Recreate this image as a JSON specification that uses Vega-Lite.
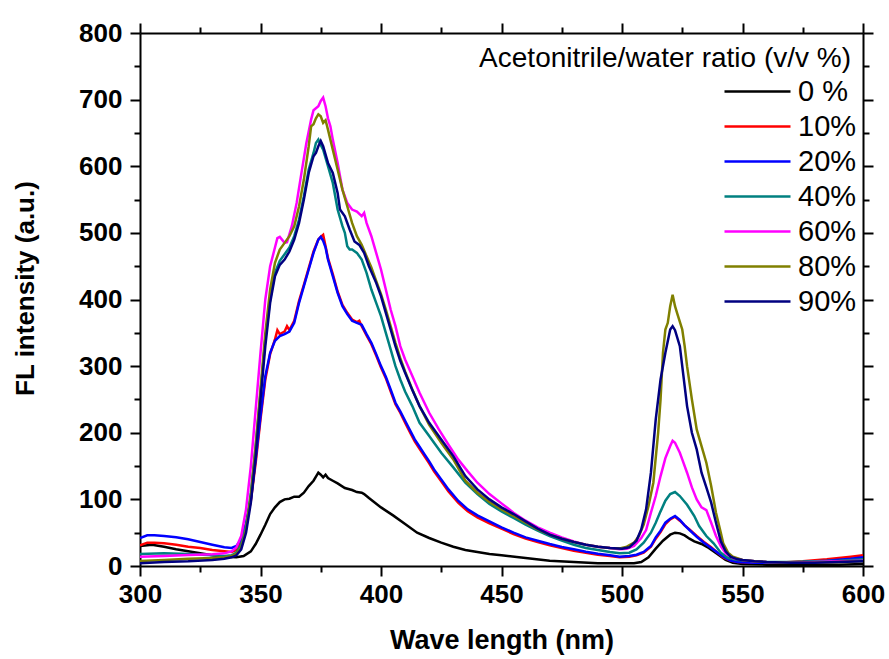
{
  "$schema": "https://vega.github.io/schema/vega-lite/v6.json",
  "width": 723,
  "height": 533,
  "autosize": {"type": "none"},
  "padding": {"left": 140, "top": 33, "right": 26, "bottom": 93},
  "background": "white",
  "config": {
    "view": {"stroke": null},
    "font": "Liberation Sans",
    "axis": {
      "grid": false,
      "domainColor": "black",
      "domainWidth": 2,
      "tickColor": "black",
      "tickWidth": 2,
      "labelColor": "black",
      "titleColor": "black",
      "labelFont": "Liberation Sans",
      "labelFontWeight": "bold",
      "labelFontSize": 26,
      "titleFont": "Liberation Sans",
      "titleFontWeight": "bold"
    }
  },
  "title": {
    "text": "Acetonitrile/water ratio (v/v %)",
    "anchor": "end",
    "frame": "group",
    "orient": "top",
    "offset": 0,
    "dx": -12,
    "dy": 75,
    "baseline": "alphabetic",
    "font": "Liberation Sans",
    "fontSize": 28,
    "fontWeight": "normal",
    "color": "black"
  },
  "data": {
    "values": [
      {"ratio":"0 %","nm":300,"fl":30},{"ratio":"0 %","nm":305,"fl":32},{"ratio":"0 %","nm":310,"fl":29},{"ratio":"0 %","nm":315,"fl":25},{"ratio":"0 %","nm":320,"fl":22},{"ratio":"0 %","nm":325,"fl":19},{"ratio":"0 %","nm":330,"fl":16},{"ratio":"0 %","nm":335,"fl":14},{"ratio":"0 %","nm":340,"fl":13},{"ratio":"0 %","nm":343,"fl":15},{"ratio":"0 %","nm":346,"fl":22},{"ratio":"0 %","nm":348,"fl":33},{"ratio":"0 %","nm":350,"fl":47},{"ratio":"0 %","nm":352,"fl":62},{"ratio":"0 %","nm":354,"fl":78},{"ratio":"0 %","nm":356,"fl":88},{"ratio":"0 %","nm":358,"fl":96},{"ratio":"0 %","nm":360,"fl":100},{"ratio":"0 %","nm":362,"fl":101},{"ratio":"0 %","nm":364,"fl":104},{"ratio":"0 %","nm":366,"fl":104},{"ratio":"0 %","nm":368,"fl":110},{"ratio":"0 %","nm":370,"fl":120},{"ratio":"0 %","nm":372,"fl":128},{"ratio":"0 %","nm":374,"fl":140},{"ratio":"0 %","nm":375,"fl":137},{"ratio":"0 %","nm":376,"fl":133},{"ratio":"0 %","nm":377,"fl":137},{"ratio":"0 %","nm":378,"fl":132},{"ratio":"0 %","nm":380,"fl":128},{"ratio":"0 %","nm":382,"fl":124},{"ratio":"0 %","nm":385,"fl":117},{"ratio":"0 %","nm":388,"fl":114},{"ratio":"0 %","nm":390,"fl":111},{"ratio":"0 %","nm":392,"fl":110},{"ratio":"0 %","nm":393,"fl":108},{"ratio":"0 %","nm":395,"fl":102},{"ratio":"0 %","nm":400,"fl":88},{"ratio":"0 %","nm":405,"fl":76},{"ratio":"0 %","nm":410,"fl":63},{"ratio":"0 %","nm":415,"fl":50},{"ratio":"0 %","nm":420,"fl":42},{"ratio":"0 %","nm":425,"fl":35},{"ratio":"0 %","nm":430,"fl":29},{"ratio":"0 %","nm":435,"fl":24},{"ratio":"0 %","nm":440,"fl":21},{"ratio":"0 %","nm":445,"fl":18},{"ratio":"0 %","nm":450,"fl":16},{"ratio":"0 %","nm":460,"fl":12},{"ratio":"0 %","nm":470,"fl":8},{"ratio":"0 %","nm":480,"fl":6},{"ratio":"0 %","nm":490,"fl":4},{"ratio":"0 %","nm":500,"fl":4},{"ratio":"0 %","nm":505,"fl":4},{"ratio":"0 %","nm":508,"fl":6},{"ratio":"0 %","nm":511,"fl":13},{"ratio":"0 %","nm":514,"fl":26},{"ratio":"0 %","nm":517,"fl":38},{"ratio":"0 %","nm":520,"fl":47},{"ratio":"0 %","nm":522,"fl":50},{"ratio":"0 %","nm":524,"fl":49},{"ratio":"0 %","nm":526,"fl":46},{"ratio":"0 %","nm":528,"fl":41},{"ratio":"0 %","nm":530,"fl":37},{"ratio":"0 %","nm":533,"fl":33},{"ratio":"0 %","nm":536,"fl":27},{"ratio":"0 %","nm":540,"fl":17},{"ratio":"0 %","nm":543,"fl":9},{"ratio":"0 %","nm":546,"fl":5},{"ratio":"0 %","nm":550,"fl":3},{"ratio":"0 %","nm":560,"fl":2},{"ratio":"0 %","nm":570,"fl":1},{"ratio":"0 %","nm":580,"fl":2},{"ratio":"0 %","nm":590,"fl":2},{"ratio":"0 %","nm":600,"fl":3},

      {"ratio":"10%","nm":300,"fl":31},{"ratio":"10%","nm":303,"fl":35},{"ratio":"10%","nm":306,"fl":35},{"ratio":"10%","nm":310,"fl":34},{"ratio":"10%","nm":315,"fl":32},{"ratio":"10%","nm":320,"fl":29},{"ratio":"10%","nm":325,"fl":27},{"ratio":"10%","nm":330,"fl":24},{"ratio":"10%","nm":335,"fl":22},{"ratio":"10%","nm":338,"fl":21},{"ratio":"10%","nm":340,"fl":24},{"ratio":"10%","nm":342,"fl":36},{"ratio":"10%","nm":344,"fl":62},{"ratio":"10%","nm":346,"fl":98},{"ratio":"10%","nm":348,"fl":155},{"ratio":"10%","nm":350,"fl":220},{"ratio":"10%","nm":352,"fl":280},{"ratio":"10%","nm":354,"fl":318},{"ratio":"10%","nm":356,"fl":340},{"ratio":"10%","nm":357,"fl":354},{"ratio":"10%","nm":358,"fl":348},{"ratio":"10%","nm":360,"fl":352},{"ratio":"10%","nm":361,"fl":360},{"ratio":"10%","nm":362,"fl":354},{"ratio":"10%","nm":364,"fl":368},{"ratio":"10%","nm":366,"fl":398},{"ratio":"10%","nm":368,"fl":422},{"ratio":"10%","nm":370,"fl":447},{"ratio":"10%","nm":372,"fl":472},{"ratio":"10%","nm":374,"fl":490},{"ratio":"10%","nm":375,"fl":494},{"ratio":"10%","nm":376,"fl":497},{"ratio":"10%","nm":377,"fl":480},{"ratio":"10%","nm":378,"fl":462},{"ratio":"10%","nm":380,"fl":438},{"ratio":"10%","nm":382,"fl":412},{"ratio":"10%","nm":384,"fl":392},{"ratio":"10%","nm":386,"fl":380},{"ratio":"10%","nm":388,"fl":370},{"ratio":"10%","nm":390,"fl":366},{"ratio":"10%","nm":391,"fl":368},{"ratio":"10%","nm":392,"fl":360},{"ratio":"10%","nm":394,"fl":346},{"ratio":"10%","nm":396,"fl":333},{"ratio":"10%","nm":398,"fl":316},{"ratio":"10%","nm":400,"fl":298},{"ratio":"10%","nm":402,"fl":282},{"ratio":"10%","nm":404,"fl":262},{"ratio":"10%","nm":406,"fl":243},{"ratio":"10%","nm":408,"fl":230},{"ratio":"10%","nm":410,"fl":215},{"ratio":"10%","nm":412,"fl":201},{"ratio":"10%","nm":414,"fl":187},{"ratio":"10%","nm":416,"fl":176},{"ratio":"10%","nm":418,"fl":165},{"ratio":"10%","nm":420,"fl":154},{"ratio":"10%","nm":422,"fl":142},{"ratio":"10%","nm":425,"fl":127},{"ratio":"10%","nm":428,"fl":112},{"ratio":"10%","nm":432,"fl":95},{"ratio":"10%","nm":436,"fl":82},{"ratio":"10%","nm":440,"fl":73},{"ratio":"10%","nm":445,"fl":64},{"ratio":"10%","nm":450,"fl":56},{"ratio":"10%","nm":455,"fl":48},{"ratio":"10%","nm":460,"fl":41},{"ratio":"10%","nm":465,"fl":36},{"ratio":"10%","nm":470,"fl":31},{"ratio":"10%","nm":475,"fl":27},{"ratio":"10%","nm":480,"fl":23},{"ratio":"10%","nm":485,"fl":20},{"ratio":"10%","nm":490,"fl":17},{"ratio":"10%","nm":495,"fl":15},{"ratio":"10%","nm":499,"fl":13},{"ratio":"10%","nm":503,"fl":14},{"ratio":"10%","nm":506,"fl":16},{"ratio":"10%","nm":509,"fl":20},{"ratio":"10%","nm":512,"fl":29},{"ratio":"10%","nm":514,"fl":41},{"ratio":"10%","nm":516,"fl":51},{"ratio":"10%","nm":518,"fl":63},{"ratio":"10%","nm":520,"fl":70},{"ratio":"10%","nm":522,"fl":74},{"ratio":"10%","nm":524,"fl":68},{"ratio":"10%","nm":526,"fl":61},{"ratio":"10%","nm":528,"fl":55},{"ratio":"10%","nm":531,"fl":45},{"ratio":"10%","nm":534,"fl":36},{"ratio":"10%","nm":537,"fl":28},{"ratio":"10%","nm":540,"fl":19},{"ratio":"10%","nm":542,"fl":13},{"ratio":"10%","nm":545,"fl":8},{"ratio":"10%","nm":548,"fl":6},{"ratio":"10%","nm":555,"fl":5},{"ratio":"10%","nm":565,"fl":5},{"ratio":"10%","nm":575,"fl":7},{"ratio":"10%","nm":585,"fl":10},{"ratio":"10%","nm":595,"fl":14},{"ratio":"10%","nm":600,"fl":16},

      {"ratio":"20%","nm":300,"fl":42},{"ratio":"20%","nm":303,"fl":46},{"ratio":"20%","nm":306,"fl":46},{"ratio":"20%","nm":310,"fl":45},{"ratio":"20%","nm":315,"fl":43},{"ratio":"20%","nm":320,"fl":40},{"ratio":"20%","nm":325,"fl":36},{"ratio":"20%","nm":330,"fl":32},{"ratio":"20%","nm":335,"fl":28},{"ratio":"20%","nm":338,"fl":27},{"ratio":"20%","nm":340,"fl":30},{"ratio":"20%","nm":342,"fl":40},{"ratio":"20%","nm":344,"fl":64},{"ratio":"20%","nm":346,"fl":100},{"ratio":"20%","nm":348,"fl":160},{"ratio":"20%","nm":350,"fl":225},{"ratio":"20%","nm":352,"fl":285},{"ratio":"20%","nm":354,"fl":320},{"ratio":"20%","nm":356,"fl":338},{"ratio":"20%","nm":358,"fl":345},{"ratio":"20%","nm":360,"fl":348},{"ratio":"20%","nm":362,"fl":352},{"ratio":"20%","nm":364,"fl":365},{"ratio":"20%","nm":366,"fl":395},{"ratio":"20%","nm":368,"fl":420},{"ratio":"20%","nm":370,"fl":445},{"ratio":"20%","nm":372,"fl":470},{"ratio":"20%","nm":374,"fl":490},{"ratio":"20%","nm":375,"fl":494},{"ratio":"20%","nm":376,"fl":488},{"ratio":"20%","nm":377,"fl":478},{"ratio":"20%","nm":378,"fl":460},{"ratio":"20%","nm":380,"fl":435},{"ratio":"20%","nm":382,"fl":410},{"ratio":"20%","nm":384,"fl":390},{"ratio":"20%","nm":386,"fl":378},{"ratio":"20%","nm":388,"fl":368},{"ratio":"20%","nm":390,"fl":365},{"ratio":"20%","nm":392,"fl":362},{"ratio":"20%","nm":394,"fl":348},{"ratio":"20%","nm":396,"fl":335},{"ratio":"20%","nm":398,"fl":318},{"ratio":"20%","nm":400,"fl":300},{"ratio":"20%","nm":402,"fl":284},{"ratio":"20%","nm":404,"fl":265},{"ratio":"20%","nm":406,"fl":245},{"ratio":"20%","nm":408,"fl":232},{"ratio":"20%","nm":410,"fl":218},{"ratio":"20%","nm":412,"fl":204},{"ratio":"20%","nm":414,"fl":190},{"ratio":"20%","nm":416,"fl":179},{"ratio":"20%","nm":418,"fl":168},{"ratio":"20%","nm":420,"fl":157},{"ratio":"20%","nm":422,"fl":145},{"ratio":"20%","nm":425,"fl":130},{"ratio":"20%","nm":428,"fl":115},{"ratio":"20%","nm":432,"fl":98},{"ratio":"20%","nm":436,"fl":85},{"ratio":"20%","nm":440,"fl":76},{"ratio":"20%","nm":445,"fl":67},{"ratio":"20%","nm":450,"fl":58},{"ratio":"20%","nm":455,"fl":50},{"ratio":"20%","nm":460,"fl":43},{"ratio":"20%","nm":465,"fl":38},{"ratio":"20%","nm":470,"fl":33},{"ratio":"20%","nm":475,"fl":28.5},{"ratio":"20%","nm":480,"fl":25},{"ratio":"20%","nm":485,"fl":21.5},{"ratio":"20%","nm":490,"fl":18.5},{"ratio":"20%","nm":495,"fl":16},{"ratio":"20%","nm":499,"fl":14},{"ratio":"20%","nm":503,"fl":15},{"ratio":"20%","nm":506,"fl":17},{"ratio":"20%","nm":509,"fl":21},{"ratio":"20%","nm":512,"fl":30},{"ratio":"20%","nm":514,"fl":43},{"ratio":"20%","nm":516,"fl":53},{"ratio":"20%","nm":518,"fl":65},{"ratio":"20%","nm":520,"fl":71},{"ratio":"20%","nm":522,"fl":75},{"ratio":"20%","nm":524,"fl":69},{"ratio":"20%","nm":526,"fl":61},{"ratio":"20%","nm":528,"fl":54},{"ratio":"20%","nm":531,"fl":44},{"ratio":"20%","nm":534,"fl":35},{"ratio":"20%","nm":537,"fl":27},{"ratio":"20%","nm":540,"fl":19},{"ratio":"20%","nm":542,"fl":14},{"ratio":"20%","nm":545,"fl":8},{"ratio":"20%","nm":548,"fl":6},{"ratio":"20%","nm":555,"fl":5},{"ratio":"20%","nm":565,"fl":5},{"ratio":"20%","nm":575,"fl":6},{"ratio":"20%","nm":585,"fl":8},{"ratio":"20%","nm":595,"fl":11},{"ratio":"20%","nm":600,"fl":13},

      {"ratio":"40%","nm":300,"fl":18},{"ratio":"40%","nm":310,"fl":19},{"ratio":"40%","nm":320,"fl":18},{"ratio":"40%","nm":330,"fl":16},{"ratio":"40%","nm":335,"fl":15},{"ratio":"40%","nm":338,"fl":16},{"ratio":"40%","nm":340,"fl":20},{"ratio":"40%","nm":342,"fl":32},{"ratio":"40%","nm":344,"fl":60},{"ratio":"40%","nm":346,"fl":110},{"ratio":"40%","nm":348,"fl":180},{"ratio":"40%","nm":350,"fl":260},{"ratio":"40%","nm":352,"fl":340},{"ratio":"40%","nm":354,"fl":400},{"ratio":"40%","nm":356,"fl":440},{"ratio":"40%","nm":358,"fl":458},{"ratio":"40%","nm":360,"fl":468},{"ratio":"40%","nm":362,"fl":478},{"ratio":"40%","nm":364,"fl":495},{"ratio":"40%","nm":366,"fl":520},{"ratio":"40%","nm":368,"fl":555},{"ratio":"40%","nm":370,"fl":595},{"ratio":"40%","nm":372,"fl":620},{"ratio":"40%","nm":373,"fl":635},{"ratio":"40%","nm":374,"fl":640},{"ratio":"40%","nm":375,"fl":632},{"ratio":"40%","nm":376,"fl":625},{"ratio":"40%","nm":378,"fl":600},{"ratio":"40%","nm":380,"fl":575},{"ratio":"40%","nm":382,"fl":535},{"ratio":"40%","nm":384,"fl":510},{"ratio":"40%","nm":385,"fl":500},{"ratio":"40%","nm":386,"fl":480},{"ratio":"40%","nm":387,"fl":475},{"ratio":"40%","nm":388,"fl":475},{"ratio":"40%","nm":390,"fl":470},{"ratio":"40%","nm":392,"fl":460},{"ratio":"40%","nm":394,"fl":440},{"ratio":"40%","nm":396,"fl":415},{"ratio":"40%","nm":398,"fl":395},{"ratio":"40%","nm":400,"fl":375},{"ratio":"40%","nm":402,"fl":350},{"ratio":"40%","nm":404,"fl":325},{"ratio":"40%","nm":406,"fl":300},{"ratio":"40%","nm":408,"fl":280},{"ratio":"40%","nm":410,"fl":262},{"ratio":"40%","nm":413,"fl":240},{"ratio":"40%","nm":416,"fl":215},{"ratio":"40%","nm":420,"fl":195},{"ratio":"40%","nm":425,"fl":170},{"ratio":"40%","nm":430,"fl":148},{"ratio":"40%","nm":435,"fl":125},{"ratio":"40%","nm":440,"fl":108},{"ratio":"40%","nm":445,"fl":93},{"ratio":"40%","nm":450,"fl":82},{"ratio":"40%","nm":455,"fl":72},{"ratio":"40%","nm":460,"fl":62},{"ratio":"40%","nm":465,"fl":53},{"ratio":"40%","nm":470,"fl":45},{"ratio":"40%","nm":475,"fl":38},{"ratio":"40%","nm":480,"fl":32},{"ratio":"40%","nm":485,"fl":27},{"ratio":"40%","nm":490,"fl":24},{"ratio":"40%","nm":495,"fl":21},{"ratio":"40%","nm":499,"fl":19},{"ratio":"40%","nm":503,"fl":20},{"ratio":"40%","nm":506,"fl":25},{"ratio":"40%","nm":509,"fl":35},{"ratio":"40%","nm":512,"fl":50},{"ratio":"40%","nm":514,"fl":65},{"ratio":"40%","nm":516,"fl":82},{"ratio":"40%","nm":518,"fl":98},{"ratio":"40%","nm":520,"fl":108},{"ratio":"40%","nm":522,"fl":111},{"ratio":"40%","nm":524,"fl":105},{"ratio":"40%","nm":527,"fl":92},{"ratio":"40%","nm":530,"fl":75},{"ratio":"40%","nm":532,"fl":60},{"ratio":"40%","nm":535,"fl":45},{"ratio":"40%","nm":538,"fl":34},{"ratio":"40%","nm":541,"fl":20},{"ratio":"40%","nm":544,"fl":12},{"ratio":"40%","nm":548,"fl":9},{"ratio":"40%","nm":555,"fl":7},{"ratio":"40%","nm":560,"fl":6},{"ratio":"40%","nm":570,"fl":6},{"ratio":"40%","nm":580,"fl":7},{"ratio":"40%","nm":590,"fl":8},{"ratio":"40%","nm":600,"fl":10},

      {"ratio":"60%","nm":300,"fl":14},{"ratio":"60%","nm":310,"fl":15},{"ratio":"60%","nm":320,"fl":16.5},{"ratio":"60%","nm":330,"fl":17.5},{"ratio":"60%","nm":335,"fl":19},{"ratio":"60%","nm":338,"fl":22},{"ratio":"60%","nm":340,"fl":28},{"ratio":"60%","nm":342,"fl":45},{"ratio":"60%","nm":344,"fl":85},{"ratio":"60%","nm":346,"fl":150},{"ratio":"60%","nm":348,"fl":235},{"ratio":"60%","nm":350,"fl":320},{"ratio":"60%","nm":352,"fl":400},{"ratio":"60%","nm":354,"fl":450},{"ratio":"60%","nm":356,"fl":478},{"ratio":"60%","nm":357,"fl":492},{"ratio":"60%","nm":358,"fl":494},{"ratio":"60%","nm":360,"fl":485},{"ratio":"60%","nm":361,"fl":486},{"ratio":"60%","nm":363,"fl":510},{"ratio":"60%","nm":365,"fl":545},{"ratio":"60%","nm":367,"fl":590},{"ratio":"60%","nm":369,"fl":634},{"ratio":"60%","nm":371,"fl":670},{"ratio":"60%","nm":372,"fl":684},{"ratio":"60%","nm":374,"fl":690},{"ratio":"60%","nm":375,"fl":698},{"ratio":"60%","nm":376,"fl":703},{"ratio":"60%","nm":377,"fl":690},{"ratio":"60%","nm":378,"fl":672},{"ratio":"60%","nm":379,"fl":660},{"ratio":"60%","nm":380,"fl":640},{"ratio":"60%","nm":382,"fl":605},{"ratio":"60%","nm":384,"fl":565},{"ratio":"60%","nm":386,"fl":545},{"ratio":"60%","nm":388,"fl":535},{"ratio":"60%","nm":390,"fl":532},{"ratio":"60%","nm":392,"fl":525},{"ratio":"60%","nm":393,"fl":530},{"ratio":"60%","nm":394,"fl":515},{"ratio":"60%","nm":396,"fl":495},{"ratio":"60%","nm":398,"fl":470},{"ratio":"60%","nm":400,"fl":445},{"ratio":"60%","nm":402,"fl":415},{"ratio":"60%","nm":404,"fl":385},{"ratio":"60%","nm":406,"fl":360},{"ratio":"60%","nm":408,"fl":330},{"ratio":"60%","nm":410,"fl":310},{"ratio":"60%","nm":413,"fl":285},{"ratio":"60%","nm":416,"fl":260},{"ratio":"60%","nm":420,"fl":230},{"ratio":"60%","nm":424,"fl":205},{"ratio":"60%","nm":428,"fl":182},{"ratio":"60%","nm":432,"fl":160},{"ratio":"60%","nm":436,"fl":142},{"ratio":"60%","nm":440,"fl":125},{"ratio":"60%","nm":445,"fl":108},{"ratio":"60%","nm":450,"fl":94},{"ratio":"60%","nm":455,"fl":80},{"ratio":"60%","nm":460,"fl":68},{"ratio":"60%","nm":465,"fl":58},{"ratio":"60%","nm":470,"fl":50},{"ratio":"60%","nm":475,"fl":43},{"ratio":"60%","nm":480,"fl":37},{"ratio":"60%","nm":485,"fl":32},{"ratio":"60%","nm":490,"fl":29},{"ratio":"60%","nm":495,"fl":27},{"ratio":"60%","nm":499,"fl":25},{"ratio":"60%","nm":502,"fl":26},{"ratio":"60%","nm":505,"fl":30},{"ratio":"60%","nm":508,"fl":42},{"ratio":"60%","nm":510,"fl":54},{"ratio":"60%","nm":512,"fl":80},{"ratio":"60%","nm":514,"fl":105},{"ratio":"60%","nm":516,"fl":135},{"ratio":"60%","nm":518,"fl":162},{"ratio":"60%","nm":520,"fl":180},{"ratio":"60%","nm":521,"fl":188},{"ratio":"60%","nm":522,"fl":185},{"ratio":"60%","nm":524,"fl":170},{"ratio":"60%","nm":525,"fl":160},{"ratio":"60%","nm":527,"fl":140},{"ratio":"60%","nm":529,"fl":118},{"ratio":"60%","nm":531,"fl":100},{"ratio":"60%","nm":533,"fl":88},{"ratio":"60%","nm":535,"fl":84},{"ratio":"60%","nm":537,"fl":65},{"ratio":"60%","nm":539,"fl":45},{"ratio":"60%","nm":541,"fl":30},{"ratio":"60%","nm":543,"fl":19},{"ratio":"60%","nm":546,"fl":12},{"ratio":"60%","nm":550,"fl":9},{"ratio":"60%","nm":555,"fl":7},{"ratio":"60%","nm":560,"fl":6},{"ratio":"60%","nm":570,"fl":5},{"ratio":"60%","nm":580,"fl":6},{"ratio":"60%","nm":590,"fl":7},{"ratio":"60%","nm":600,"fl":8},

      {"ratio":"80%","nm":300,"fl":7.5},{"ratio":"80%","nm":310,"fl":9},{"ratio":"80%","nm":320,"fl":11},{"ratio":"80%","nm":330,"fl":12},{"ratio":"80%","nm":335,"fl":13},{"ratio":"80%","nm":338,"fl":15},{"ratio":"80%","nm":340,"fl":18},{"ratio":"80%","nm":342,"fl":28},{"ratio":"80%","nm":344,"fl":55},{"ratio":"80%","nm":346,"fl":105},{"ratio":"80%","nm":348,"fl":180},{"ratio":"80%","nm":350,"fl":265},{"ratio":"80%","nm":352,"fl":350},{"ratio":"80%","nm":354,"fl":415},{"ratio":"80%","nm":356,"fl":455},{"ratio":"80%","nm":358,"fl":475},{"ratio":"80%","nm":360,"fl":485},{"ratio":"80%","nm":362,"fl":495},{"ratio":"80%","nm":364,"fl":510},{"ratio":"80%","nm":366,"fl":540},{"ratio":"80%","nm":368,"fl":580},{"ratio":"80%","nm":370,"fl":630},{"ratio":"80%","nm":371,"fl":660},{"ratio":"80%","nm":372,"fl":663},{"ratio":"80%","nm":373,"fl":672},{"ratio":"80%","nm":374,"fl":678},{"ratio":"80%","nm":375,"fl":675},{"ratio":"80%","nm":376,"fl":665},{"ratio":"80%","nm":377,"fl":669},{"ratio":"80%","nm":378,"fl":655},{"ratio":"80%","nm":380,"fl":625},{"ratio":"80%","nm":382,"fl":595},{"ratio":"80%","nm":384,"fl":565},{"ratio":"80%","nm":386,"fl":540},{"ratio":"80%","nm":388,"fl":515},{"ratio":"80%","nm":390,"fl":495},{"ratio":"80%","nm":392,"fl":482},{"ratio":"80%","nm":394,"fl":465},{"ratio":"80%","nm":396,"fl":448},{"ratio":"80%","nm":398,"fl":428},{"ratio":"80%","nm":400,"fl":408},{"ratio":"80%","nm":402,"fl":385},{"ratio":"80%","nm":404,"fl":360},{"ratio":"80%","nm":406,"fl":335},{"ratio":"80%","nm":408,"fl":312},{"ratio":"80%","nm":410,"fl":292},{"ratio":"80%","nm":413,"fl":265},{"ratio":"80%","nm":416,"fl":240},{"ratio":"80%","nm":420,"fl":212},{"ratio":"80%","nm":425,"fl":185},{"ratio":"80%","nm":430,"fl":160},{"ratio":"80%","nm":435,"fl":128},{"ratio":"80%","nm":440,"fl":110},{"ratio":"80%","nm":445,"fl":96},{"ratio":"80%","nm":450,"fl":85},{"ratio":"80%","nm":455,"fl":75},{"ratio":"80%","nm":460,"fl":65},{"ratio":"80%","nm":465,"fl":55},{"ratio":"80%","nm":470,"fl":47},{"ratio":"80%","nm":475,"fl":41},{"ratio":"80%","nm":480,"fl":36},{"ratio":"80%","nm":485,"fl":32},{"ratio":"80%","nm":490,"fl":29},{"ratio":"80%","nm":495,"fl":27},{"ratio":"80%","nm":499,"fl":26.5},{"ratio":"80%","nm":502,"fl":29},{"ratio":"80%","nm":505,"fl":35},{"ratio":"80%","nm":507,"fl":45},{"ratio":"80%","nm":509,"fl":62},{"ratio":"80%","nm":511,"fl":90},{"ratio":"80%","nm":513,"fl":125},{"ratio":"80%","nm":515,"fl":200},{"ratio":"80%","nm":516,"fl":250},{"ratio":"80%","nm":517,"fl":320},{"ratio":"80%","nm":518,"fl":355},{"ratio":"80%","nm":519,"fl":365},{"ratio":"80%","nm":520,"fl":390},{"ratio":"80%","nm":521,"fl":407},{"ratio":"80%","nm":522,"fl":390},{"ratio":"80%","nm":523,"fl":378},{"ratio":"80%","nm":525,"fl":355},{"ratio":"80%","nm":526,"fl":330},{"ratio":"80%","nm":527,"fl":300},{"ratio":"80%","nm":529,"fl":250},{"ratio":"80%","nm":531,"fl":205},{"ratio":"80%","nm":533,"fl":180},{"ratio":"80%","nm":535,"fl":155},{"ratio":"80%","nm":537,"fl":120},{"ratio":"80%","nm":539,"fl":80},{"ratio":"80%","nm":541,"fl":50},{"ratio":"80%","nm":542,"fl":34},{"ratio":"80%","nm":544,"fl":20},{"ratio":"80%","nm":546,"fl":14},{"ratio":"80%","nm":550,"fl":9},{"ratio":"80%","nm":555,"fl":7},{"ratio":"80%","nm":560,"fl":6},{"ratio":"80%","nm":570,"fl":5},{"ratio":"80%","nm":580,"fl":5},{"ratio":"80%","nm":590,"fl":6},{"ratio":"80%","nm":600,"fl":7},

      {"ratio":"90%","nm":300,"fl":4},{"ratio":"90%","nm":310,"fl":6},{"ratio":"90%","nm":320,"fl":7},{"ratio":"90%","nm":330,"fl":9},{"ratio":"90%","nm":335,"fl":11},{"ratio":"90%","nm":338,"fl":13},{"ratio":"90%","nm":340,"fl":16},{"ratio":"90%","nm":342,"fl":25},{"ratio":"90%","nm":344,"fl":50},{"ratio":"90%","nm":346,"fl":95},{"ratio":"90%","nm":348,"fl":165},{"ratio":"90%","nm":350,"fl":250},{"ratio":"90%","nm":352,"fl":330},{"ratio":"90%","nm":354,"fl":395},{"ratio":"90%","nm":356,"fl":435},{"ratio":"90%","nm":358,"fl":452},{"ratio":"90%","nm":360,"fl":460},{"ratio":"90%","nm":362,"fl":472},{"ratio":"90%","nm":364,"fl":490},{"ratio":"90%","nm":366,"fl":515},{"ratio":"90%","nm":368,"fl":550},{"ratio":"90%","nm":370,"fl":590},{"ratio":"90%","nm":372,"fl":615},{"ratio":"90%","nm":373,"fl":620},{"ratio":"90%","nm":374,"fl":630},{"ratio":"90%","nm":375,"fl":638},{"ratio":"90%","nm":376,"fl":630},{"ratio":"90%","nm":378,"fl":605},{"ratio":"90%","nm":380,"fl":590},{"ratio":"90%","nm":382,"fl":560},{"ratio":"90%","nm":383,"fl":535},{"ratio":"90%","nm":385,"fl":525},{"ratio":"90%","nm":387,"fl":505},{"ratio":"90%","nm":389,"fl":487},{"ratio":"90%","nm":391,"fl":482},{"ratio":"90%","nm":393,"fl":470},{"ratio":"90%","nm":395,"fl":450},{"ratio":"90%","nm":398,"fl":425},{"ratio":"90%","nm":400,"fl":405},{"ratio":"90%","nm":402,"fl":380},{"ratio":"90%","nm":404,"fl":355},{"ratio":"90%","nm":406,"fl":330},{"ratio":"90%","nm":408,"fl":308},{"ratio":"90%","nm":410,"fl":290},{"ratio":"90%","nm":413,"fl":264},{"ratio":"90%","nm":416,"fl":240},{"ratio":"90%","nm":420,"fl":215},{"ratio":"90%","nm":425,"fl":190},{"ratio":"90%","nm":430,"fl":165},{"ratio":"90%","nm":435,"fl":135},{"ratio":"90%","nm":440,"fl":115},{"ratio":"90%","nm":445,"fl":100},{"ratio":"90%","nm":450,"fl":88},{"ratio":"90%","nm":455,"fl":78},{"ratio":"90%","nm":460,"fl":67},{"ratio":"90%","nm":465,"fl":56},{"ratio":"90%","nm":470,"fl":47},{"ratio":"90%","nm":475,"fl":41},{"ratio":"90%","nm":480,"fl":36},{"ratio":"90%","nm":485,"fl":32},{"ratio":"90%","nm":490,"fl":29},{"ratio":"90%","nm":495,"fl":27},{"ratio":"90%","nm":500,"fl":26},{"ratio":"90%","nm":503,"fl":28},{"ratio":"90%","nm":506,"fl":38},{"ratio":"90%","nm":508,"fl":55},{"ratio":"90%","nm":510,"fl":85},{"ratio":"90%","nm":512,"fl":140},{"ratio":"90%","nm":514,"fl":220},{"ratio":"90%","nm":516,"fl":280},{"ratio":"90%","nm":518,"fl":320},{"ratio":"90%","nm":520,"fl":355},{"ratio":"90%","nm":521,"fl":360},{"ratio":"90%","nm":522,"fl":354},{"ratio":"90%","nm":524,"fl":330},{"ratio":"90%","nm":526,"fl":270},{"ratio":"90%","nm":527,"fl":240},{"ratio":"90%","nm":529,"fl":200},{"ratio":"90%","nm":531,"fl":175},{"ratio":"90%","nm":533,"fl":140},{"ratio":"90%","nm":535,"fl":118},{"ratio":"90%","nm":537,"fl":95},{"ratio":"90%","nm":539,"fl":65},{"ratio":"90%","nm":541,"fl":37},{"ratio":"90%","nm":543,"fl":22},{"ratio":"90%","nm":545,"fl":14},{"ratio":"90%","nm":548,"fl":10},{"ratio":"90%","nm":550,"fl":9},{"ratio":"90%","nm":555,"fl":7},{"ratio":"90%","nm":560,"fl":6},{"ratio":"90%","nm":570,"fl":5},{"ratio":"90%","nm":580,"fl":5},{"ratio":"90%","nm":590,"fl":6},{"ratio":"90%","nm":600,"fl":7}
    ]
  },
  "resolve": {"axis": {"x": "independent", "y": "independent"}},
  "layer": [
    {
      "mark": {"type": "line", "strokeWidth": 2.5, "clip": true},
      "encoding": {
        "x": {
          "field": "nm", "type": "quantitative",
          "scale": {"domain": [300, 600], "nice": false, "zero": false},
          "axis": {
            "orient": "bottom",
            "values": [300,325,350,375,400,425,450,475,500,525,550,575,600],
            "labelExpr": "datum.value % 50 == 0 ? datum.label : ''",
            "tickSize": {"condition": {"test": "datum.value % 50 == 0", "value": 10}, "value": 6},
            "labelPadding": 5,
            "labelFlush": false,
            "labelOverlap": false,
            "title": "Wave length (nm)",
            "titleFontSize": 27,
            "titlePadding": 20
          }
        },
        "y": {
          "field": "fl", "type": "quantitative",
          "scale": {"domain": [0, 800], "nice": false},
          "axis": {
            "orient": "left",
            "values": [0,50,100,150,200,250,300,350,400,450,500,550,600,650,700,750,800],
            "labelExpr": "datum.value % 100 == 0 ? datum.label : ''",
            "tickSize": {"condition": {"test": "datum.value % 100 == 0", "value": 10}, "value": 6},
            "labelPadding": 8,
            "labelFlush": false,
            "labelOverlap": false,
            "title": "FL intensity (a.u.)",
            "titleFontSize": 26,
            "titlePadding": 40,
            "titleY": 255
          }
        },
        "color": {
          "field": "ratio", "type": "nominal",
          "scale": {
            "domain": ["0 %","10%","20%","40%","60%","80%","90%"],
            "range": ["#000000","#ff0000","#0000ff","#008080","#ff00ff","#808000","#000080"]
          },
          "legend": {
            "orient": "none",
            "legendX": 583,
            "legendY": 44,
            "title": null,
            "padding": 0,
            "symbolType": "stroke",
            "symbolSize": 4356,
            "symbolStrokeWidth": 2.5,
            "symbolOffset": 0,
            "clipHeight": 29,
            "rowPadding": 5,
            "labelOffset": 6,
            "labelFont": "Liberation Sans",
            "labelFontSize": 29,
            "labelColor": "black"
          }
        }
      }
    },
    {
      "mark": {"type": "line", "opacity": 0},
      "encoding": {
        "x": {
          "field": "nm", "type": "quantitative",
          "axis": {
            "orient": "top",
            "values": [300,325,350,375,400,425,450,475,500,525,550,575,600],
            "labels": false,
            "title": null,
            "tickSize": {"condition": {"test": "datum.value % 50 == 0", "value": 10}, "value": 6}
          }
        },
        "y": {
          "field": "fl", "type": "quantitative",
          "axis": {
            "orient": "right",
            "values": [0,50,100,150,200,250,300,350,400,450,500,550,600,650,700,750,800],
            "labels": false,
            "title": null,
            "tickSize": {"condition": {"test": "datum.value % 100 == 0", "value": 10}, "value": 6}
          }
        },
        "detail": {"field": "ratio", "type": "nominal"}
      }
    }
  ]
}
